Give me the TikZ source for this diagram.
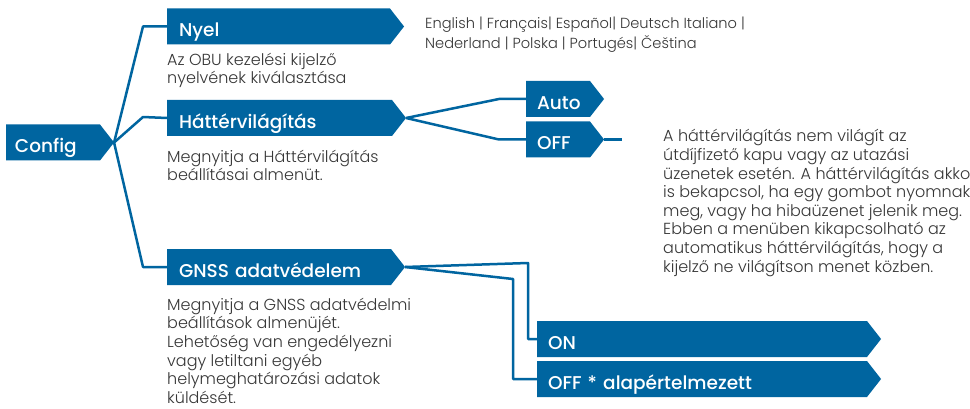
\documentclass[tikz,border=0pt]{standalone}
\usepackage{fontspec}
\setmainfont{Poppins}
\newfontfamily\lblf{Poppins Medium}
\newfontfamily\dscf{Poppins Light}
\usetikzlibrary{shapes.symbols}
\definecolor{blu}{RGB}{0,101,160}
\definecolor{txt}{RGB}{55,55,55}
\newcommand\fstrut{\rule{0pt}{17pt}}
\tikzset{
  tagbox/.style={signal, signal to=east, signal pointer angle=104, fill=blu, draw=none,
    text=white, font=\lblf\fontsize{18.5}{20}\selectfont, minimum height=36, inner xsep=12,
    inner ysep=0, outer sep=0, text width=#1, align=left, anchor=west,
    text height=21pt, text depth=0.4pt},
  desc/.style={anchor=north west, inner sep=0, align=left, text=txt,
    font=\dscf\fontsize{16}{18.6}\selectfont},
  link/.style={draw=blu, line width=2.5pt, line join=round}
}
\begin{document}
\begin{tikzpicture}[x=1pt,y=-1pt]
\useasboundingbox[fill=white] (0,0) rectangle (970,409);
% boxes
\node[tagbox=76, inner xsep=9] (config) at (6,142.5) {Config};
\node[tagbox=199] (nyel) at (167,26.5) {Nyel};
\node[tagbox=201] (hatter) at (167,118) {Háttérvilágítás};
\node[tagbox=200] (gnss) at (167,267) {GNSS adatvédelem};
\node[tagbox=42, inner xsep=11] (auto) at (526,99) {Auto};
\node[tagbox=42, inner xsep=11] (off) at (526,139.5) {OFF};
\node[tagbox=308, inner xsep=11] (on) at (537,339) {ON};
\node[tagbox=308, inner xsep=11] (offdef) at (537,379) {OFF * alapértelmezett};
% bend points
\coordinate (b1) at (143,26.5);
\coordinate (b2) at (143,117);
\coordinate (b3) at (143,267);
\coordinate (b4) at (499,99);
\coordinate (b5) at (499,139.5);
\coordinate (offend) at (622,139.5);
\coordinate (b6) at (528,263);
\coordinate (b7) at (513,279);
% connectors
\draw[link] (config.east) -- (b1) -- (nyel.west);
\draw[link] (config.east) -- (b2) -- (hatter.west);
\draw[link] (config.east) -- (b3) -- (gnss.west);
\draw[link] (hatter.east) -- (b4) -- (auto.west);
\draw[link] (hatter.east) -- (b5) -- (off.west);
\draw[link] (off.east) -- (offend);
\draw[link] (gnss.east) -- (b6) |- (on.west);
\draw[link] (gnss.east) -- (b7) |- (offdef.west);
% descriptions (anchor at first baseline - 17)
\node[desc] (dnyel) at (167,48) {\fstrut Az OBU kezelési kijelző\\nyelvének kiválasztása};
\node[desc] (dhatter) at (167,145) {\fstrut Megnyitja a Háttérvilágítás\\beállításai almenüt.};
\node[desc] (dgnss) at (167,293) {\fstrut Megnyitja a GNSS adatvédelmi\\beállítások almenüjét.\\Lehetőség van engedélyezni\\vagy letiltani egyéb\\helymeghatározási adatok\\küldését.};
\node[desc, font=\dscf\fontsize{14.6}{20}\selectfont] (dlang) at (425,11) {\fstrut English | Français| Español| Deutsch Italiano |\\Nederland | Polska | Portugés| Čeština};
\node[desc] (doff) at (663,124.7) {\fstrut A háttérvilágítás nem világít az\\útdíjfizető kapu vagy az utazási\\üzenetek esetén. A háttérvilágítás akkor\\is bekapcsol, ha egy gombot nyomnak\\meg, vagy ha hibaüzenet jelenik meg.\\Ebben a menüben kikapcsolható az\\automatikus háttérvilágítás, hogy a\\kijelző ne világítson menet közben.};
\end{tikzpicture}
\end{document}
